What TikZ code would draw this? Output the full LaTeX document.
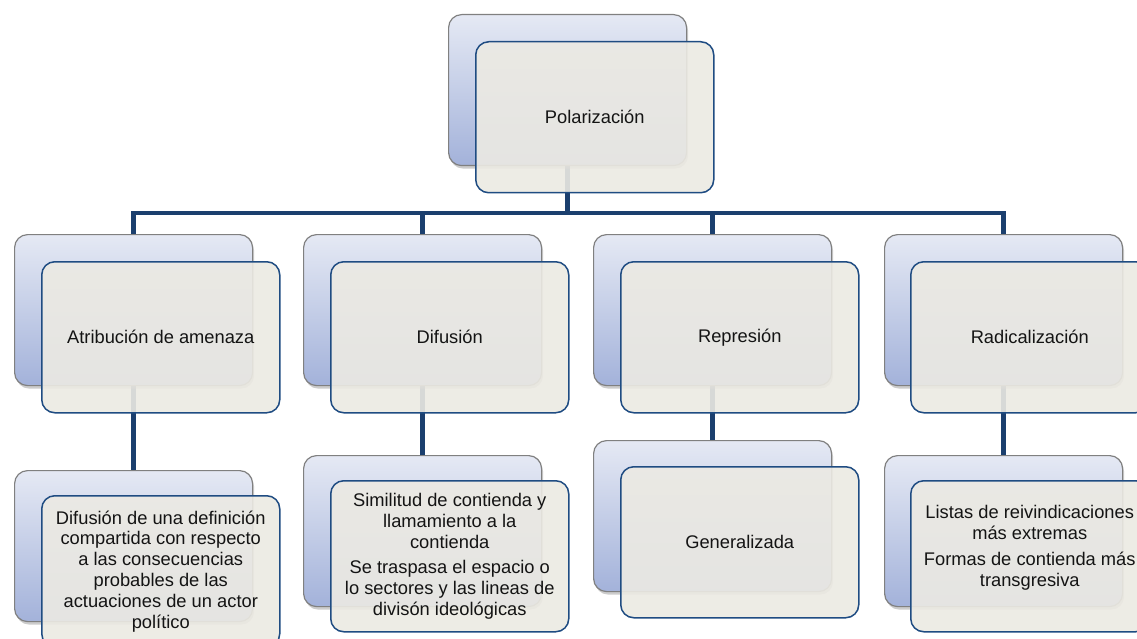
\documentclass[tikz,border=0pt]{standalone}
\usepackage{fontspec}
\setmainfont{Liberation Sans}
\usetikzlibrary{shadows}
\definecolor{backtop}{RGB}{229,233,244}
\definecolor{backbot}{RGB}{163,178,218}
\definecolor{backedge}{RGB}{128,128,128}
\definecolor{frontfill}{RGB}{236,234,227}
\definecolor{frontedge}{RGB}{31,76,130}
\definecolor{linkcol}{RGB}{27,63,110}
\definecolor{txt}{RGB}{20,20,20}
\pgfdeclarelayer{paper}
\pgfdeclarelayer{links}
\pgfsetlayers{paper,links,main}
\tikzset{
  backbox/.style={draw=backedge, line width=1.2pt, rounded corners=13pt,
    top color=backtop, bottom color=backbot, anchor=north west,
    minimum width=238pt, minimum height=151pt, inner sep=0pt,
    drop shadow={opacity=0.4, shadow xshift=1.5pt, shadow yshift=-3pt}},
  frontbox/.style={draw=frontedge, line width=1.5pt, rounded corners=13pt,
    fill=frontfill, fill opacity=0.9, text opacity=1, anchor=north west,
    minimum width=238pt, minimum height=151pt, inner sep=0pt,
    align=center, text=txt, font=\fontsize{18.3}{20.8}\selectfont},
  conn/.style={draw=linkcol, line width=4.3pt}
}
\begin{document}
\begin{tikzpicture}[x=1pt,y=-1pt]
\begin{pgfonlayer}{paper}
  \fill[white] (0,0) rectangle (1137,639);
\end{pgfonlayer}
\useasboundingbox (0,0) rectangle (1137,639);

% root
\node[backbox] (pb) at (448,14) {};
\node[frontbox] (pf) at (475,41) {Polarización};

% second level
\node[backbox] (ab) at (14,234) {};
\node[frontbox] (af) at (41,261) {Atribución de amenaza};
\node[backbox] (db) at (303,234) {};
\node[frontbox] (df) at (330,261) {Difusión};
\node[backbox] (rb) at (593,234) {};
\node[frontbox] (rf) at (620,261) {Represión};
\node[backbox] (xb) at (884,234) {};
\node[frontbox] (xf) at (910,261) {Radicalización};

% third level
\node[backbox] (acb) at (14,470) {};
\node[frontbox] (acf) at (41,495) {Difusión de una definición\\compartida con respecto\\a las consecuencias\\probables de las\\actuaciones de un actor\\político};
\node[backbox] (dcb) at (303,455) {};
\node[frontbox] (dcf) at (330,480) {Similitud de contienda y\\llamamiento a la\\contienda\\[5pt]Se traspasa el espacio o\\lo sectores y las lineas de\\divisón ideológicas};
\node[backbox] (rcb) at (593,440) {};
\node[frontbox] (rcf) at (620,466) {Generalizada};
\node[backbox] (xcb) at (884,455) {};
\node[frontbox] (xcf) at (910,480) {Listas de reivindicaciones\\más extremas\\[5pt]Formas de contienda más\\transgresiva\\\mbox{}};

% connectors, kept underneath the boxes
\begin{pgfonlayer}{links}
  \foreach \c in {ab,db,rb,xb}{
    \draw[conn] (pb.south) -- ++(0,47) -| (\c.north);
  }
  \draw[conn] (ab.south) -- (acb.north);
  \draw[conn] (db.south) -- (dcb.north);
  \draw[conn] (rb.south) -- (rcb.north);
  \draw[conn] (xb.south) -- (xcb.north);
\end{pgfonlayer}
\end{tikzpicture}
\end{document}
